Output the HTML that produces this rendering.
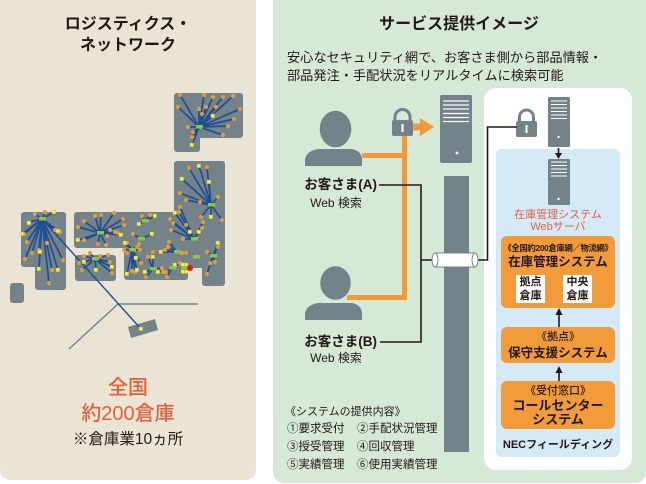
<!DOCTYPE html>
<html><head><meta charset="utf-8">
<style>
html,body{margin:0;padding:0;background:#fff;}
body{width:646px;height:484px;position:relative;overflow:hidden;font-family:"Liberation Sans","Noto Sans CJK JP",sans-serif;color:#231815;}
svg{position:absolute;left:0;top:0;}
.t{position:absolute;white-space:nowrap;text-align:center;}
.b{font-weight:bold;}
.r{color:#e2603b;}
</style></head><body>
<svg width="646" height="484" viewBox="0 0 646 484">
<!-- panels -->
<rect x="0" y="-10" width="256" height="490" rx="10" fill="#e9e4d4"/>
<rect x="273" y="-10" width="373" height="493" rx="11" fill="#d6e9d7"/>
<!-- map -->
<g fill="#738389">
<rect x="174" y="93" width="69" height="45" rx="3"/>
<rect x="174" y="93" width="26" height="59" rx="3"/>
<rect x="174" y="161" width="51" height="107" rx="3"/>
<rect x="202" y="161" width="23" height="125" rx="3"/>
<rect x="74" y="212" width="151" height="36" rx="3"/>
<rect x="124" y="212" width="64" height="68" rx="3"/>
<rect x="124" y="212" width="101" height="56" rx="3"/>
<rect x="21" y="212" width="45" height="55" rx="3"/>
<rect x="35" y="212" width="31" height="78" rx="3"/>
<rect x="75" y="255" width="41" height="26" rx="3"/>
<rect x="10" y="283" width="14" height="20" rx="3"/>
<polygon points="128,327 155,319 158,330 131,338"/>
</g>
<polyline points="69,349 118,304 198,304" fill="none" stroke="#738389" stroke-width="1.5"/>
<g stroke="#1f4e96" stroke-width="1.7" fill="none">
<path d="M42,219 L141,329" stroke-width="1.4"/>
<path d="M199,127L180,95M199,127L204,95M199,127L213,97M199,127L223,97M199,127L233,96M199,127L178,107M199,127L240,109M199,127L234,119M199,127L228,126M199,127L223,135M199,127L188,127M199,127L193,132M199,127L192,137M199,127L199,109M199,127L202,114M199,127L206,107M199,127L216,107M199,127L192,145M199,127L213,116"/>
<path d="M211,205L207,167M211,205L189,168M211,205L180,193M211,205L218,197M211,205L200,202M211,205L222,220M211,205L201,217M211,205L186,200M211,205L182,179M211,205L199,166M211,205L209,182M211,205L211,217"/>
<path d="M194,239L170,219M194,239L173,223M194,239L179,212M194,239L171,230M194,239L183,239M194,239L202,228M194,239L203,222M194,239L180,207M194,239L186,225M194,239L175,213M194,239L190,232M194,239L199,232"/>
<path d="M42,219L45,212M42,219L35,214M42,219L29,222M42,219L24,234M42,219L27,242M42,219L25,259M42,219L32,253M42,219L49,283M42,219L52,270M42,219L63,260M42,219L55,230M42,219L60,232M42,219L39,250M42,219L47,243M42,219L54,212M42,219L40,252M42,219L39,269M42,219L58,270M42,219L58,231M42,219L22,234"/>
<path d="M100,233L78,227M100,233L84,221M100,233L95,216M100,233L101,215M100,233L114,213M100,233L123,219M100,233L124,225M100,233L110,230M100,233L107,236M100,233L84,240M100,233L98,244M100,233L106,245M100,233L115,232M100,233L118,233M100,233L121,235M100,233L78,240"/>
<path d="M95,259L84,256M95,259L79,263M95,259L100,256M95,259L108,255M95,259L110,262M95,259L82,270M95,259L112,273M95,259L90,253M95,259L84,262M95,259L112,267M95,259L96,270"/>
<path d="M132,250L127,243M132,250L139,244M132,250L140,250M132,250L124,250M132,250L127,253M132,250L135,272M132,250L132,271M132,250L141,263M132,250L137,247M132,250L125,243M132,250L136,258M132,250L127,274M132,250L137,270"/>
<path d="M145,221L150,215M145,221L142,216M145,221L155,216M145,221L139,224M141,239L133,234M141,239L152,234"/>
<path d="M153,269L153,252M153,269L148,257M153,269L146,277M153,269L163,272M153,269L162,268M153,269L153,257M153,269L145,272M153,269L158,272"/>
<path d="M172,268L166,272M172,268L167,277M172,268L180,263M172,268L175,265M177,252L165,250M177,252L168,247M177,252L169,242M177,252L182,253M177,252L186,253M177,252L161,252"/>
<path d="M213,256L218,247M213,256L207,252M213,256L210,263M213,256L215,262M213,256L207,274M213,256L218,243"/>
</g>
<g fill="#e29a3f">
<circle cx="180" cy="95" r="2.1"/><circle cx="204" cy="95" r="2.1"/><circle cx="213" cy="97" r="2.1"/><circle cx="223" cy="97" r="2.1"/><circle cx="233" cy="96" r="2.1"/><circle cx="178" cy="107" r="2.1"/><circle cx="240" cy="109" r="2.1"/><circle cx="234" cy="119" r="2.1"/><circle cx="228" cy="126" r="2.1"/><circle cx="223" cy="135" r="2.1"/><circle cx="188" cy="127" r="2.1"/><circle cx="193" cy="132" r="2.1"/><circle cx="192" cy="137" r="2.1"/><circle cx="199" cy="109" r="2.1"/><circle cx="202" cy="114" r="2.1"/><circle cx="206" cy="107" r="2.1"/><circle cx="216" cy="107" r="2.1"/>
<circle cx="207" cy="167" r="2.1"/><circle cx="189" cy="168" r="2.1"/><circle cx="180" cy="193" r="2.1"/><circle cx="218" cy="197" r="2.1"/><circle cx="200" cy="202" r="2.1"/><circle cx="222" cy="220" r="2.1"/><circle cx="201" cy="217" r="2.1"/><circle cx="186" cy="200" r="2.1"/>
<circle cx="170" cy="219" r="2.1"/><circle cx="173" cy="223" r="2.1"/><circle cx="179" cy="212" r="2.1"/><circle cx="171" cy="230" r="2.1"/><circle cx="183" cy="239" r="2.1"/><circle cx="202" cy="228" r="2.1"/><circle cx="203" cy="222" r="2.1"/><circle cx="180" cy="207" r="2.1"/><circle cx="186" cy="225" r="2.1"/>
<circle cx="45" cy="212" r="2.1"/><circle cx="35" cy="214" r="2.1"/><circle cx="24" cy="234" r="2.1"/><circle cx="27" cy="242" r="2.1"/><circle cx="25" cy="259" r="2.1"/><circle cx="32" cy="253" r="2.1"/><circle cx="49" cy="283" r="2.1"/><circle cx="52" cy="270" r="2.1"/><circle cx="63" cy="260" r="2.1"/><circle cx="55" cy="230" r="2.1"/><circle cx="60" cy="232" r="2.1"/><circle cx="39" cy="250" r="2.1"/><circle cx="47" cy="243" r="2.1"/>
<circle cx="78" cy="227" r="2.1"/><circle cx="84" cy="221" r="2.1"/><circle cx="95" cy="216" r="2.1"/><circle cx="101" cy="215" r="2.1"/><circle cx="114" cy="213" r="2.1"/><circle cx="123" cy="219" r="2.1"/><circle cx="124" cy="225" r="2.1"/><circle cx="110" cy="230" r="2.1"/><circle cx="107" cy="236" r="2.1"/><circle cx="84" cy="240" r="2.1"/><circle cx="98" cy="244" r="2.1"/><circle cx="106" cy="245" r="2.1"/><circle cx="115" cy="232" r="2.1"/><circle cx="118" cy="233" r="2.1"/>
<circle cx="84" cy="256" r="2.1"/><circle cx="79" cy="263" r="2.1"/><circle cx="100" cy="256" r="2.1"/><circle cx="108" cy="255" r="2.1"/><circle cx="110" cy="262" r="2.1"/><circle cx="82" cy="270" r="2.1"/><circle cx="112" cy="273" r="2.1"/><circle cx="90" cy="253" r="2.1"/>
<circle cx="127" cy="243" r="2.1"/><circle cx="139" cy="244" r="2.1"/><circle cx="140" cy="250" r="2.1"/><circle cx="124" cy="250" r="2.1"/><circle cx="127" cy="253" r="2.1"/><circle cx="135" cy="272" r="2.1"/><circle cx="132" cy="271" r="2.1"/><circle cx="141" cy="263" r="2.1"/><circle cx="137" cy="247" r="2.1"/>
<circle cx="150" cy="215" r="2.1"/><circle cx="142" cy="216" r="2.1"/><circle cx="133" cy="234" r="2.1"/>
<circle cx="153" cy="252" r="2.1"/><circle cx="148" cy="257" r="2.1"/><circle cx="146" cy="277" r="2.1"/><circle cx="163" cy="272" r="2.1"/><circle cx="162" cy="268" r="2.1"/>
<circle cx="166" cy="272" r="2.1"/><circle cx="167" cy="277" r="2.1"/><circle cx="180" cy="263" r="2.1"/><circle cx="165" cy="250" r="2.1"/><circle cx="168" cy="247" r="2.1"/><circle cx="169" cy="242" r="2.1"/><circle cx="182" cy="253" r="2.1"/><circle cx="186" cy="253" r="2.1"/>
<circle cx="218" cy="247" r="2.1"/><circle cx="207" cy="252" r="2.1"/><circle cx="210" cy="263" r="2.1"/><circle cx="215" cy="262" r="2.1"/><circle cx="207" cy="274" r="2.1"/>
</g>
<g fill="#f2f04a" stroke="#c9b53a" stroke-width="0.4">
<rect x="190" y="143" width="3.6" height="3.6"/><rect x="211" y="114" width="3.6" height="3.6"/>
<rect x="180" y="177" width="3.6" height="3.6"/><rect x="197" y="164" width="3.6" height="3.6"/><rect x="207" y="180" width="3.6" height="3.6"/><rect x="209" y="215" width="3.6" height="3.6"/>
<rect x="173" y="211" width="3.6" height="3.6"/><rect x="188" y="230" width="3.6" height="3.6"/><rect x="197" y="230" width="3.6" height="3.6"/>
<rect x="52" y="210" width="3.6" height="3.6"/><rect x="38" y="250" width="3.6" height="3.6"/><rect x="37" y="267" width="3.6" height="3.6"/><rect x="56" y="268" width="3.6" height="3.6"/><rect x="56" y="229" width="3.6" height="3.6"/><rect x="20" y="232" width="3.6" height="3.6"/><rect x="27" y="221" width="3.6" height="3.6"/>
<rect x="119" y="233" width="3.6" height="3.6"/><rect x="76" y="238" width="3.6" height="3.6"/>
<rect x="82" y="260" width="3.6" height="3.6"/><rect x="110" y="265" width="3.6" height="3.6"/><rect x="94" y="268" width="3.6" height="3.6"/>
<rect x="123" y="241" width="3.6" height="3.6"/><rect x="134" y="256" width="3.6" height="3.6"/><rect x="125" y="272" width="3.6" height="3.6"/><rect x="135" y="268" width="3.6" height="3.6"/>
<rect x="153" y="214" width="3.6" height="3.6"/><rect x="137" y="222" width="3.6" height="3.6"/><rect x="150" y="232" width="3.6" height="3.6"/>
<rect x="151" y="255" width="3.6" height="3.6"/><rect x="143" y="270" width="3.6" height="3.6"/><rect x="156" y="270" width="3.6" height="3.6"/>
<rect x="173" y="263" width="3.6" height="3.6"/><rect x="159" y="250" width="3.6" height="3.6"/><rect x="216" y="241" width="3.6" height="3.6"/>
<rect x="181" y="263" width="3.4" height="3.4"/><rect x="184.5" y="263" width="3.4" height="3.4"/><rect x="181" y="270" width="3.4" height="3.4"/><rect x="184.5" y="270" width="3.4" height="3.4"/>
<rect x="139" y="327" width="3.6" height="3.6"/>
</g>
<g fill="#8cc63f">
<rect x="196" y="125" width="7" height="3.5"/><rect x="208" y="203" width="7" height="3.5"/><rect x="191" y="237" width="7" height="3.5"/>
<rect x="39" y="217" width="7" height="3.5"/><rect x="97" y="231" width="7" height="3.5"/><rect x="92" y="257" width="7" height="3.5"/>
<rect x="129" y="248" width="7" height="3.5"/><rect x="142" y="219" width="7" height="3.5"/><rect x="138" y="237" width="7" height="3.5"/>
<rect x="150" y="267" width="7" height="3.5"/><rect x="169" y="266" width="7" height="3.5"/><rect x="174" y="250" width="7" height="3.5"/>
<rect x="193" y="255" width="7" height="3.5"/><rect x="210" y="254" width="7" height="3.5"/><rect x="181" y="266" width="7" height="3.5"/>
</g>
<circle cx="190" cy="268" r="3" fill="#e8141c"/>

<!-- right side -->
<rect x="484" y="88" width="148" height="382" rx="12" fill="#fff"/>
<rect x="496" y="149" width="124" height="308" rx="6" fill="#d5eaf7"/>

<!-- orange lines -->
<g stroke="#f29a38" stroke-width="5" fill="none">
<path d="M362,155.5 H404.5 M404.5,134 V300 M347,297.5 H404.5"/>
<path d="M410,127 H422" stroke-width="7"/>
</g>
<polygon points="420,118 434,127 420,136" fill="#f29a38"/>

<!-- persons -->
<g fill="#738389">
<path d="M305,166 L305,160 Q306,151 318,149 L352,149 Q362,151 362,160 L362,166 Z"/>
<ellipse cx="335.5" cy="129" rx="16.5" ry="19" stroke="#d6e9d7" stroke-width="1.5"/>
<path d="M305,320 L305,314 Q306,305 318,303 L352,303 Q362,305 362,314 L362,320 Z"/>
<ellipse cx="335.5" cy="283" rx="16" ry="17.5" stroke="#d6e9d7" stroke-width="1.5"/>
</g>

<!-- lock 1 -->
<path d="M395,122 V117 A7.5,7.5 0 0 1 410,117 V122" fill="none" stroke="#738389" stroke-width="3"/>
<rect x="392" y="120" width="21" height="16" rx="2" fill="#738389"/>
<rect x="401.5" y="124" width="2" height="8" fill="#fff"/>
<!-- lock 2 -->
<path d="M519.5,122 V117 A7,7 0 0 1 533.5,117 V122" fill="none" stroke="#738389" stroke-width="3"/>
<rect x="516" y="121" width="21" height="16" rx="2" fill="#738389"/>
<rect x="525.5" y="125" width="2" height="8" fill="#fff"/>

<!-- big server -->
<rect x="440" y="95" width="32" height="68" rx="2" fill="#738389"/>
<g stroke="#fff" stroke-width="1.2">
<path d="M443,101H469M443,105H469M443,109H469M443,113.5H469M443,117.5H469M443,121.5H469"/>
</g>
<circle cx="457" cy="153" r="1.4" fill="#fff"/>
<rect x="444" y="176" width="25" height="276" fill="#738389"/>

<!-- black connectors -->
<g stroke="#231815" stroke-width="1.6" fill="none">
<path d="M379,185 H421 V342 H380 M421,260 H434"/>
<path d="M476,260 H487.5 V127 H517"/>
<path d="M558.5,148 V154"/>
<path d="M559,315 V328"/>
<path d="M559,373 V381"/>
</g>
<polygon points="555,153 562,153 558.5,159" fill="#231815"/>
<polygon points="555.5,315 562.5,315 559,308" fill="#231815"/>
<polygon points="555.5,373 562.5,373 559,366" fill="#231815"/>

<!-- cylinder -->
<rect x="435" y="253" width="40" height="14" fill="#fff" stroke="#738389" stroke-width="1"/>
<ellipse cx="435" cy="260" rx="3" ry="7" fill="#fff" stroke="#738389" stroke-width="1"/>
<ellipse cx="475" cy="260" rx="3" ry="7" fill="#fff" stroke="#738389" stroke-width="1"/>

<!-- small servers -->
<rect x="548" y="97" width="22" height="50" rx="1.5" fill="#738389"/>
<path d="M551,101H567M551,104.5H567M551,108H567M551,111.5H567M551,115H567M551,118.5H567" stroke="#fff" stroke-width="1"/>
<circle cx="558.5" cy="137" r="1.2" fill="#fff"/>
<rect x="548" y="159" width="22" height="46" rx="1.5" fill="#738389"/>
<path d="M551,162H567M551,165.5H567M551,169H567M551,172.5H567M551,176H567" stroke="#fff" stroke-width="1"/>
<circle cx="558.5" cy="199" r="1.2" fill="#fff"/>

<!-- orange boxes -->
<rect x="501" y="236" width="114" height="72" rx="6" fill="#f29b3a"/>
<rect x="516" y="275" width="29" height="28" fill="#fff"/>
<rect x="563" y="275" width="29" height="28" fill="#fff"/>
<rect x="501" y="327" width="114" height="36" rx="6" fill="#f29b3a"/>
<rect x="501" y="381" width="114" height="48" rx="6" fill="#f29b3a"/>
</svg>

<!-- left texts -->
<div class="t b" style="left:0;top:15px;width:256px;height:20px;line-height:20px;font-size:16px;">ロジスティクス・</div>
<div class="t b" style="left:0;top:36px;width:256px;height:20px;line-height:20px;font-size:16px;">ネットワーク</div>
<div class="t r" style="left:0;top:376px;width:256px;height:24px;line-height:24px;font-size:20px;font-weight:500;">全国</div>
<div class="t r" style="left:0;top:402px;width:256px;height:24px;line-height:24px;font-size:20px;font-weight:500;">約200倉庫</div>
<div class="t" style="left:0;top:430px;width:256px;height:20px;line-height:20px;font-size:15.5px;">※倉庫業10ヵ所</div>

<!-- right texts -->
<div class="t b" style="left:273px;top:15px;width:372px;height:20px;line-height:20px;font-size:16px;">サービス提供イメージ</div>
<div class="t" style="left:287px;top:49px;height:18px;line-height:18px;font-size:13.2px;text-align:left;">安心なセキュリティ網で、お客さま側から部品情報・</div>
<div class="t" style="left:287px;top:67px;height:18px;line-height:18px;font-size:13.2px;text-align:left;">部品発注・手配状況をリアルタイムに検索可能</div>

<div class="t b" style="left:276px;top:176px;width:101px;height:18px;line-height:18px;font-size:13.5px;text-align:right;">お客さま(A)</div>
<div class="t" style="left:296px;top:195px;width:80px;height:16px;line-height:16px;font-size:12px;">Web 検索</div>
<div class="t b" style="left:276px;top:333px;width:101px;height:18px;line-height:18px;font-size:13.5px;text-align:right;">お客さま(B)</div>
<div class="t" style="left:296px;top:350px;width:80px;height:16px;line-height:16px;font-size:12px;">Web 検索</div>

<div class="t" style="left:285px;top:404px;height:16px;line-height:16px;font-size:11px;text-align:left;">《システムの提供内容》</div>
<div class="t" style="left:287px;top:421px;height:16px;line-height:16px;font-size:11.5px;text-align:left;">①要求受付</div>
<div class="t" style="left:357px;top:421px;height:16px;line-height:16px;font-size:11.5px;text-align:left;">②手配状況管理</div>
<div class="t" style="left:287px;top:439px;height:16px;line-height:16px;font-size:11.5px;text-align:left;">③授受管理</div>
<div class="t" style="left:357px;top:439px;height:16px;line-height:16px;font-size:11.5px;text-align:left;">④回収管理</div>
<div class="t" style="left:287px;top:457px;height:16px;line-height:16px;font-size:11.5px;text-align:left;">⑤実績管理</div>
<div class="t" style="left:357px;top:457px;height:16px;line-height:16px;font-size:11.5px;text-align:left;">⑥使用実績管理</div>

<div class="t r" style="left:496px;top:208px;width:124px;height:14px;line-height:14px;font-size:11px;">在庫管理システム</div>
<div class="t r" style="left:496px;top:220px;width:124px;height:14px;line-height:14px;font-size:11px;">Webサーバ</div>

<div class="t b" style="left:501px;top:242px;width:114px;height:12px;line-height:12px;font-size:8.3px;letter-spacing:-0.3px;">《全国約200倉庫網／物流網》</div>
<div class="t b" style="left:501px;top:254px;width:114px;height:16px;line-height:16px;font-size:12.5px;">在庫管理システム</div>
<div class="t b" style="left:516px;top:275px;width:29px;height:14px;line-height:14px;font-size:11px;">拠点</div>
<div class="t b" style="left:516px;top:289px;width:29px;height:14px;line-height:14px;font-size:11px;">倉庫</div>
<div class="t b" style="left:563px;top:275px;width:29px;height:14px;line-height:14px;font-size:11px;">中央</div>
<div class="t b" style="left:563px;top:289px;width:29px;height:14px;line-height:14px;font-size:11px;">倉庫</div>

<div class="t" style="left:501px;top:330px;width:114px;height:14px;line-height:14px;font-size:11px;font-weight:500;">《拠点》</div>
<div class="t b" style="left:501px;top:345px;width:114px;height:16px;line-height:16px;font-size:12.5px;">保守支援システム</div>

<div class="t" style="left:501px;top:384px;width:114px;height:14px;line-height:14px;font-size:11px;font-weight:500;">《受付窓口》</div>
<div class="t b" style="left:501px;top:398px;width:114px;height:16px;line-height:16px;font-size:13px;">コールセンター</div>
<div class="t b" style="left:501px;top:412px;width:114px;height:16px;line-height:16px;font-size:13px;">システム</div>

<div class="t b" style="left:496px;top:437px;width:124px;height:16px;line-height:16px;font-size:11px;">NECフィールディング</div>
</body></html>
